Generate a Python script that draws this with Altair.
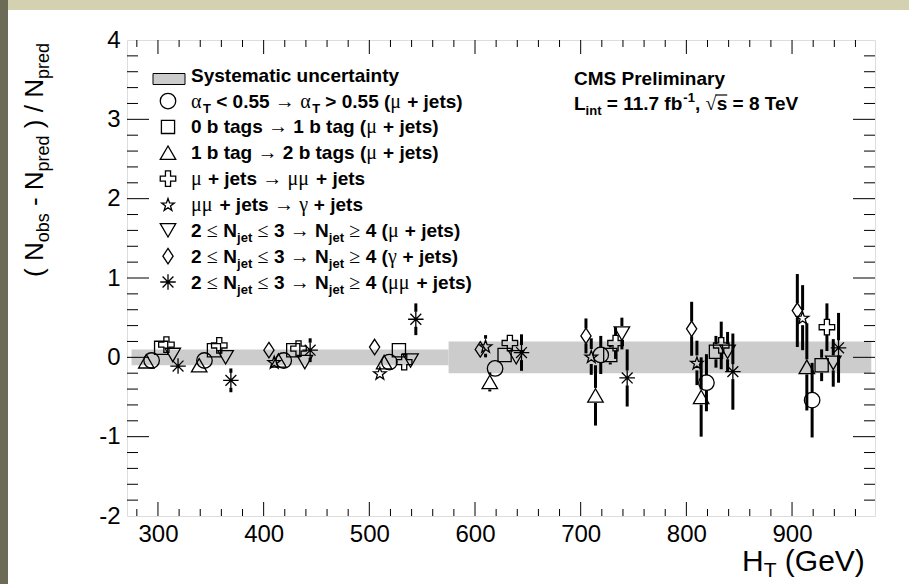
import math
import altair as alt
import pandas as pd

# ---------------- data ----------------
bin_centres = [300, 350, 425, 525, 625, 725, 825, 925]
band_lo = [275, 575]
band_hi = [575, 975]
band_err = [0.1, 0.2]

series_keys = ["alphaT", "btag01", "btag12", "mu_mumu",
               "mumu_gamma", "njet_mu", "njet_gamma", "njet_mumu"]
# horizontal offset of each series inside a bin (GeV)
series_offsets = [-6, 3, -11, 8, -15, 14, -20, 19]

alphaT_vals = [-0.04, -0.04, -0.04, -0.06, -0.14, 0.03, -0.32, -0.54]
alphaT_errs = [0.03, 0.04, 0.05, 0.06, 0.10, 0.24, 0.36, 0.47]
btag01_vals = [0.12, 0.09, 0.09, 0.09, 0.03, 0.03, 0.07, -0.10]
btag01_errs = [0.03, 0.03, 0.04, 0.07, 0.08, 0.12, 0.20, 0.20]
btag12_vals = [-0.05, -0.10, -0.04, -0.06, -0.31, -0.48, -0.50, -0.12]
btag12_errs = [0.04, 0.05, 0.06, 0.08, 0.12, 0.38, 0.50, 0.55]
mu_mumu_vals = [0.16, 0.15, 0.11, -0.06, 0.18, 0.18, 0.15, 0.38]
mu_mumu_errs = [0.04, 0.05, 0.05, 0.06, 0.10, 0.20, 0.30, 0.30]
mumu_gamma_vals = [None, None, -0.06, -0.20, 0.14, 0.01, -0.07, 0.50]
mumu_gamma_errs = [None, None, 0.07, 0.08, 0.14, 0.23, 0.28, 0.41]
njet_mu_vals = [0.03, 0.00, -0.06, -0.04, 0.00, 0.30, 0.07, -0.07]
njet_mu_errs = [0.03, 0.04, 0.05, 0.06, 0.08, 0.20, 0.25, 0.30]
njet_gamma_vals = [None, None, 0.09, 0.13, 0.10, 0.27, 0.36, 0.59]
njet_gamma_errs = [None, None, 0.05, 0.05, 0.08, 0.22, 0.34, 0.46]
njet_mumu_vals = [-0.11, -0.29, 0.09, 0.48, 0.06, -0.26, -0.18, 0.12]
njet_mumu_errs = [0.07, 0.15, 0.15, 0.20, 0.23, 0.36, 0.48, 0.44]

y_tick_labels = [-2, -1, 0, 1, 2, 3, 4]
x_tick_labels = [300, 400, 500, 600, 700, 800, 900]

# ---------------- layout constants ----------------
W, H = 748, 476
PAD_L, PAD_T, PAD_R, PAD_B = 127, 40, 34, 68
X_DOM = [270.7, 978.5]
Y_DOM = [-2, 4]
FONT = "Liberation Sans"
SYMF = "Liberation Serif"

all_vals = [alphaT_vals, btag01_vals, btag12_vals, mu_mumu_vals,
            mumu_gamma_vals, njet_mu_vals, njet_gamma_vals, njet_mumu_vals]
all_errs = [alphaT_errs, btag01_errs, btag12_errs, mu_mumu_errs,
            mumu_gamma_errs, njet_mu_errs, njet_gamma_errs, njet_mumu_errs]

rows = []
for key, off, vals, errs in zip(series_keys, series_offsets, all_vals, all_errs):
    for c, v, e in zip(bin_centres, vals, errs):
        if v is None:
            continue
        rows.append(dict(series=key, ht=c + off, v=v, err=e, hi=v + e, lo=v - e))
pts = pd.DataFrame(rows)

band = pd.DataFrame(dict(lo=band_lo, hi=band_hi, e1=[-e for e in band_err], e2=band_err))

# ---------------- marker shapes ----------------
def star_path(scale=0.85, inner=0.4):
    p = []
    for k in range(10):
        r = scale if k % 2 == 0 else scale * inner
        a = math.radians(-90 + 36 * k)
        p.append(f"{r*math.cos(a):.3f},{r*math.sin(a)+0.08:.3f}")
    return "M" + "L".join(p) + "Z"

SQUARE = "M-0.85,-0.85L0.85,-0.85L0.85,0.85L-0.85,0.85Z"
DIAMOND = "M0,-1L0.66,0L0,1L-0.66,0Z"
CROSS = ("M-0.33,-1L0.33,-1L0.33,-0.33L1,-0.33L1,0.33L0.33,0.33L0.33,1"
         "L-0.33,1L-0.33,0.33L-1,0.33L-1,-0.33L-0.33,-0.33Z")
ASTER = "M-1,0L1,0M0,-1L0,1M-0.7,-0.7L0.7,0.7M-0.7,0.7L0.7,-0.7"
shape_range = ["circle", SQUARE, "triangle-up", CROSS, star_path(),
               "triangle-down", DIAMOND, ASTER]
shape_scale = alt.Scale(domain=series_keys, range=shape_range)

# ---------------- scales / axes ----------------
xs = alt.Scale(domain=X_DOM, nice=False, zero=False)
ys = alt.Scale(domain=Y_DOM, nice=False, zero=False)
x_axis = alt.Axis(values=x_tick_labels, title=None, domain=False, ticks=False, grid=False,
                  labelFont=FONT, labelFontSize=24, labelPadding=6, labelColor="black",
                  labelFlush=False, labelOverlap=False)
y_axis = alt.Axis(values=y_tick_labels, title=None, domain=False, ticks=False, grid=False,
                  labelFont=FONT, labelFontSize=24, labelPadding=7, labelColor="black",
                  labelFlush=False, labelOverlap=False,
                  labelExpr="datum.value < 0 ? '-' + abs(datum.value) : '' + datum.value")

def X(f):
    return alt.X(f, scale=xs, axis=x_axis)

def Y(f):
    return alt.Y(f, scale=ys, axis=y_axis)

# ---------------- layers ----------------
band_layer = alt.Chart(band).mark_rect(color="#cccccc").encode(
    x=X("lo:Q"), x2="hi:Q", y=Y("e1:Q"), y2="e2:Q")

base = alt.Chart(pts)
err_up = base.transform_filter("datum.err > 0.1").mark_rule(
    color="black", strokeWidth=3, y2Offset=-7.5).encode(x=X("ht:Q"), y=Y("hi:Q"), y2="v:Q")
err_dn = base.transform_filter("datum.err > 0.1").mark_rule(
    color="black", strokeWidth=3, yOffset=7.5).encode(x=X("ht:Q"), y=Y("v:Q"), y2="lo:Q")
points = base.mark_point(filled=False, color="black", strokeWidth=1.3, size=240, opacity=1).encode(
    x=X("ht:Q"), y=Y("v:Q"),
    shape=alt.Shape("series:N", scale=shape_scale, legend=None))

# tick marks (inside the frame, on all four sides)
y_major = [v for v in y_tick_labels if Y_DOM[0] < v < Y_DOM[1]]
y_minor = [round(Y_DOM[0] + 0.2 * k, 2) for k in range(1, 30) if k % 5 != 0]
x_major = x_tick_labels
x_minor = [280 + 20 * k for k in range(0, 35) if (280 + 20 * k) % 100 != 0 and 280 + 20 * k < 978]

def yticks(vals, length):
    d = alt.Chart(pd.DataFrame(dict(t=vals)))
    left = d.mark_rule(color="black", strokeWidth=1).encode(
        y=Y("t:Q"), x=alt.value(0), x2=alt.value(length))
    right = d.mark_rule(color="black", strokeWidth=1).encode(
        y=Y("t:Q"), x=alt.value(W - length), x2=alt.value(W))
    return [left, right]

def xticks(vals, length):
    d = alt.Chart(pd.DataFrame(dict(t=vals)))
    bot = d.mark_rule(color="black", strokeWidth=1).encode(
        x=X("t:Q"), y=alt.value(H), y2=alt.value(H - length))
    top = d.mark_rule(color="black", strokeWidth=1).encode(
        x=X("t:Q"), y=alt.value(0), y2=alt.value(length))
    return [bot, top]

tick_layers = yticks(y_major, 22) + yticks(y_minor, 11) + xticks(x_major, 14) + xticks(x_minor, 7)

# ---------------- text with sub/superscripts ----------------
BOLD = {' ': 278, '(': 333, ')': 333, '+': 584, ',': 278, '-': 333, '.': 278, '/': 278,
        '<': 584, '=': 584, '>': 584, 'C': 722, 'M': 833, 'S': 667, 'P': 667, 'L': 611,
        'N': 722, 'T': 611, 'V': 667, 'a': 556, 'b': 611, 'c': 556, 'e': 556, 'f': 333,
        'g': 611, 'i': 278, 'j': 278, 'l': 278, 'm': 889, 'n': 611, 'r': 389, 's': 556,
        't': 333, 'u': 611, 'y': 556, 'o': 611, 'd': 611, 'p': 611, 'k': 556, 'h': 611}
for dgt in "0123456789":
    BOLD[dgt] = 556
REG = {' ': 278, '(': 333, ')': 333, '-': 333, '/': 278, 'N': 722, 'o': 556, 'b': 556,
       's': 500, 'p': 556, 'r': 333, 'e': 556, 'd': 556, 'H': 722, 'T': 611, 'G': 778,
       'V': 667}
SYM = {' ': 278, 'α': 600, 'μ': 580, 'γ': 470, '→': 1000, '≤': 560, '≥': 560, '√': 560}

STY = {
    "b":   dict(font=FONT, weight="bold", size=19, dy=0, w=BOLD),
    "bs":  dict(font=FONT, weight="bold", size=13, dy=5, w=BOLD),
    "bp":  dict(font=FONT, weight="bold", size=13, dy=-8, w=BOLD),
    "g":   dict(font=SYMF, weight="normal", size=20, dy=0, w=SYM),
    "xt":  dict(font=FONT, weight="normal", size=30, dy=0, w=REG),
    "xts": dict(font=FONT, weight="normal", size=21, dy=6, w=REG),
}

def w_of(table, size, text):
    return sum(table.get(ch, 556) for ch in text) / 1000.0 * size

text_rows = []

def lay(segs, x0, y0):
    """Lay out text segments left to right; leading/trailing blanks become offsets."""
    x = x0
    for st, tx in segs:
        s = STY[st]
        core = tx.strip(" ")
        lead = len(tx) - len(tx.lstrip(" "))
        if core:
            text_rows.append(dict(style=st, x=x + w_of(s["w"], s["size"], " " * lead),
                                  y=y0 + s["dy"], text=core))
        x += w_of(s["w"], s["size"], tx)
    return x

NJ = [("b", "2 "), ("g", "≤"), ("b", " N"), ("bs", "jet"), ("b", " "), ("g", "≤"),
      ("b", " 3 "), ("g", "→"), ("b", " N"), ("bs", "jet"), ("b", " "), ("g", "≥"),
      ("b", " 4 (")]
legend_lines = [
    [("b", "Systematic uncertainty")],
    [("g", "α"), ("bs", "T"), ("b", " < 0.55 "), ("g", "→"), ("b", " "), ("g", "α"),
     ("bs", "T"), ("b", " > 0.55 ("), ("g", "μ"), ("b", " + jets)")],
    [("b", "0 b tags "), ("g", "→"), ("b", " 1 b tag ("), ("g", "μ"), ("b", " + jets)")],
    [("b", "1 b tag "), ("g", "→"), ("b", " 2 b tags ("), ("g", "μ"), ("b", " + jets)")],
    [("g", "μ"), ("b", " + jets "), ("g", "→"), ("b", " "), ("g", "μμ"), ("b", " + jets")],
    [("g", "μμ"), ("b", " + jets "), ("g", "→"), ("b", " "), ("g", "γ"), ("b", " + jets")],
    NJ + [("g", "μ"), ("b", " + jets)")],
    NJ + [("g", "γ"), ("b", " + jets)")],
    NJ + [("g", "μμ"), ("b", " + jets)")],
]
LEG_X_TEXT, LEG_X_MARK, LEG_Y0, LEG_DY = 64, 41, 41.7, 25.85
for i, segs in enumerate(legend_lines):
    lay(segs, LEG_X_TEXT, LEG_Y0 + i * LEG_DY)

CMS_X, CMS_Y1, CMS_Y2 = 447, 45, 70
lay([("b", "CMS Preliminary")], CMS_X, CMS_Y1)
x_root = lay([("b", "L"), ("bs", "int"), ("b", " = 11.7 fb"), ("bp", "-1"), ("b", ", "),
              ("g", "√")], CMS_X, CMS_Y2)
lay([("b", "s = 8 TeV")], x_root, CMS_Y2)
lay([("xt", "H"), ("xts", "T"), ("xt", " (GeV)")], 615, 531)

tdf = pd.DataFrame(text_rows)
text_layers = []
for st, s in STY.items():
    sub = tdf[tdf["style"] == st]
    if len(sub) == 0:
        continue
    text_layers.append(
        alt.Chart(sub).mark_text(font=s["font"], fontWeight=s["weight"], fontSize=s["size"],
                                 align="left", baseline="alphabetic", color="black").encode(
            x=alt.X("x:Q", scale=None), y=alt.Y("y:Q", scale=None), text="text:N"))

# overline of the square root (over the "s")
one = alt.Chart(pd.DataFrame(dict(a=[0])))
sqrt_bar = one.mark_rule(color="black", strokeWidth=1.2).encode(
    x=alt.value(x_root - 1), x2=alt.value(x_root + w_of(BOLD, 19, "s")),
    y=alt.value(CMS_Y2 - 15), y2=alt.value(CMS_Y2 - 15))

# rotated y-axis title (reads bottom to top)
YT, YTS = 26, 18
yt_segs = [("m", "( N"), ("s", "obs"), ("m", " - N"), ("s", "pred"), ("m", " ) / N"), ("s", "pred")]
yrows = []
ypos = 237.0
for st, tx in yt_segs:
    size = YT if st == "m" else YTS
    core = tx.strip(" ")
    lead = len(tx) - len(tx.lstrip(" "))
    yrows.append(dict(style=st, x=-84 + (6 if st == "s" else 0),
                      y=ypos - w_of(REG, size, " " * lead), text=core))
    ypos -= w_of(REG, size, tx)
ydf = pd.DataFrame(yrows)
for st, size in (("m", YT), ("s", YTS)):
    text_layers.append(
        alt.Chart(ydf[ydf["style"] == st]).mark_text(
            font=FONT, fontSize=size, angle=270, align="left", baseline="alphabetic",
            color="black").encode(
            x=alt.X("x:Q", scale=None), y=alt.Y("y:Q", scale=None), text="text:N"))

# legend symbols
leg_marks = pd.DataFrame(dict(series=series_keys,
                              px=[LEG_X_MARK] * 8,
                              py=[LEG_Y0 + (i + 1) * LEG_DY - 6.5 for i in range(8)]))
leg_points = alt.Chart(leg_marks).mark_point(
    filled=False, color="black", strokeWidth=1.3, size=240, opacity=1).encode(
    x=alt.X("px:Q", scale=None), y=alt.Y("py:Q", scale=None),
    shape=alt.Shape("series:N", scale=shape_scale, legend=None))
leg_box = one.mark_rect(fill="#cccccc", stroke="black", strokeWidth=1).encode(
    x=alt.value(26), x2=alt.value(58), y=alt.value(33.5), y2=alt.value(44.5))

# decorative page border (slide frame)
top_strip = one.mark_rect(color="#d4d1b0").encode(
    x=alt.value(-PAD_L), x2=alt.value(W + PAD_R), y=alt.value(-PAD_T), y2=alt.value(-PAD_T + 10))
left_strip = one.mark_rect(color="#6c6b55").encode(
    x=alt.value(-PAD_L), x2=alt.value(-PAD_L + 8), y=alt.value(-PAD_T), y2=alt.value(H + PAD_B))

chart = alt.layer(
    top_strip, left_strip, band_layer, err_up, err_dn, points, *tick_layers,
    leg_box, leg_points, sqrt_bar, *text_layers
).properties(
    width=W, height=H,
    padding={"left": PAD_L, "top": PAD_T, "right": PAD_R, "bottom": PAD_B},
    autosize=alt.AutoSizeParams(type="none"),
).configure_view(stroke="black", strokeWidth=2).configure(background="white")

chart.save("out.html", embed_options={"renderer": "svg", "actions": False})
